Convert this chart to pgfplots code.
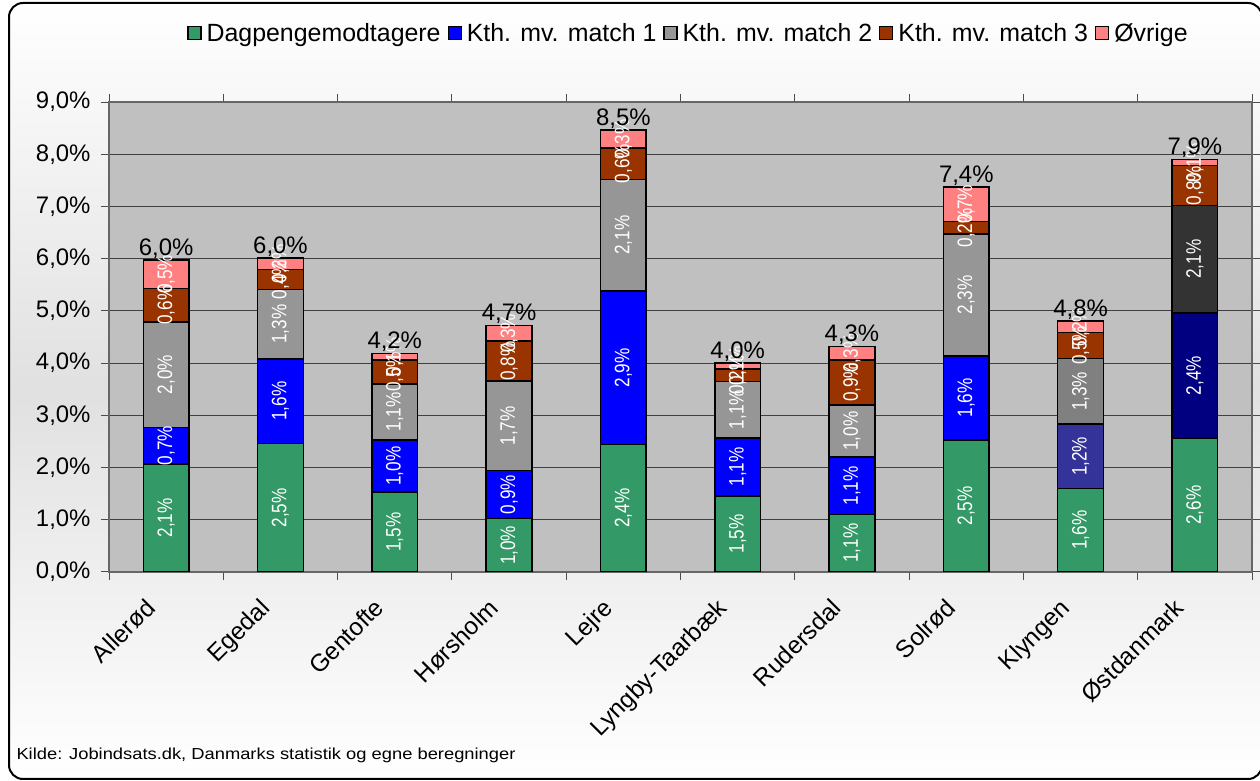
\documentclass[border=0pt]{standalone}
\usepackage{pgfplots}
\usepackage{pgfplotstable}
\pgfplotsset{compat=1.18}
\usepackage{fontspec}
\setmainfont{Liberation Sans}
\definecolor{cgreen}{HTML}{339966}
\definecolor{cblue}{HTML}{0000FF}
\definecolor{cgray}{HTML}{969696}
\definecolor{cbrown}{HTML}{993300}
\definecolor{cpink}{HTML}{FF8080}
\definecolor{kblue}{HTML}{333399}
\definecolor{kgray}{HTML}{808080}
\definecolor{oblue}{HTML}{000080}
\definecolor{ogray}{HTML}{333333}
\definecolor{plotbg}{HTML}{C0C0C0}

\pgfplotstableread{
x green blue blueK blueO gray grayK grayO brown pink
0 2.07 0.70 0 0 2.02 0 0 0.64 0.54
1 2.46 1.62 0 0 1.33 0 0 0.38 0.22
2 1.53 1.00 0 0 1.07 0 0 0.46 0.12
3 1.02 0.92 0 0 1.72 0 0 0.76 0.30
4 2.44 2.94 0 0 2.14 0 0 0.60 0.34
5 1.46 1.11 0 0 1.08 0 0 0.24 0.11
6 1.10 1.10 0 0 1.00 0 0 0.86 0.26
7 2.53 1.61 0 0 2.33 0 0 0.24 0.66
8 1.60 0 1.23 0 0 1.26 0 0.50 0.22
9 2.56 0 0 2.40 0 0 2.06 0.76 0.12
}\data

\pgfplotstableread{
x total
0 5.97
1 6.01
2 4.18
3 4.72
4 8.46
5 4.00
6 4.32
7 7.37
8 4.81
9 7.90
}\totals

\pgfplotsset{/pgf/number format/assume math mode=true,
 geom/.style={
  scale only axis, width=1143bp, height=470bp,
  xmin=-0.5, xmax=9.5, ymin=0, ymax=9,
  at={(109bp,209bp)}, anchor=south west,
}}

\begin{document}
\begin{tikzpicture}
\useasboundingbox (0,0) rectangle (1260bp,781bp);
\shadedraw[top color=white, bottom color=white, middle color=black!12, rounded corners=14bp, draw=black, line width=2bp] (9bp,2bp) rectangle (1262bp,778bp);

\begin{axis}[geom,
  ybar stacked, bar width=0.4,
  axis background/.style={fill=plotbg},
  ymajorgrids, major grid style={black!75, line width=1bp},
  axis line style={black!60, line width=1.2bp},
  tick align=outside, major tick length=8bp,
  tick style={black!70, line width=1bp},
  ytick={0,1,...,9},
  yticklabel={\pgfmathprintnumber[fixed,fixed zerofill,precision=1,use comma]{\tick}\%},
  yticklabel style={font=\fontsize{24}{28}\selectfont, xshift=-7bp},
  xtick={-0.5,0.5,...,9.5}, xticklabels={},
  extra x ticks={0,1,...,9},
  extra x tick labels={Allerød,Egedal,Gentofte,Hørsholm,Lejre,Lyngby-Taarbæk,Rudersdal,Solrød,Klyngen,Østdanmark},
  extra x tick style={major tick length=0pt, grid=none,
    xticklabel style={yshift=-22bp, xshift=-22bp, rotate=45, anchor=north east, font=\fontsize{24.5}{28}\selectfont, inner sep=2bp}},
  legend style={at={(0.507,1.147)}, anchor=center, legend columns=-1, draw=none, fill=none,
    font=\fontsize{25}{29}\selectfont,
    /tikz/every odd column/.append style={column sep=3bp},
    /tikz/every even column/.append style={column sep=5bp}},
  legend image code/.code={\draw[#1,draw=black,line width=1.2bp] (0bp,-6.5bp) rectangle (13bp,6.5bp);},
  every axis plot/.append style={draw=black, line width=1.5bp},
  nodes near coords={\pgfmathfloatifflags{\pgfplotspointmeta}{0}{}{\scalebox{0.82}[1]{\pgfmathprintnumber[fixed,fixed zerofill,precision=1,use comma]{\pgfplotspointmeta}\%}}},
  every node near coord/.append style={rotate=90, anchor=center, text=white, font=\fontsize{21}{24}\selectfont},
]
\addplot[fill=cgreen] table[x=x,y=green]{\data};
\addplot[fill=cblue] table[x=x,y=blue]{\data};
\addplot[fill=kblue, forget plot] table[x=x,y=blueK]{\data};
\addplot[fill=oblue, forget plot] table[x=x,y=blueO]{\data};
\addplot[fill=cgray] table[x=x,y=gray]{\data};
\addplot[fill=kgray, forget plot] table[x=x,y=grayK]{\data};
\addplot[fill=ogray, forget plot] table[x=x,y=grayO]{\data};
\addplot[fill=cbrown] table[x=x,y=brown]{\data};
\addplot[fill=cpink] table[x=x,y=pink]{\data};
\legend{Dagpengemodtagere, Kth. mv. match 1, Kth. mv. match 2, Kth. mv. match 3, Øvrige}
\end{axis}

\begin{axis}[geom, hide axis, clip=false]
\addplot[draw=none, mark=none,
  nodes near coords={\pgfmathprintnumber[fixed,fixed zerofill,precision=1,use comma]{\pgfplotspointmeta}\%},
  every node near coord/.style={anchor=south, font=\fontsize{24}{28}\selectfont, inner sep=1.5bp}]
  table[x=x,y=total]{\totals};
\end{axis}

\node[anchor=west, font=\fontsize{16}{19}\selectfont] at (13bp,26bp) {\scalebox{1.15}[1]{Kilde: Jobindsats.dk, Danmarks statistik og egne beregninger}};
\end{tikzpicture}
\end{document}
